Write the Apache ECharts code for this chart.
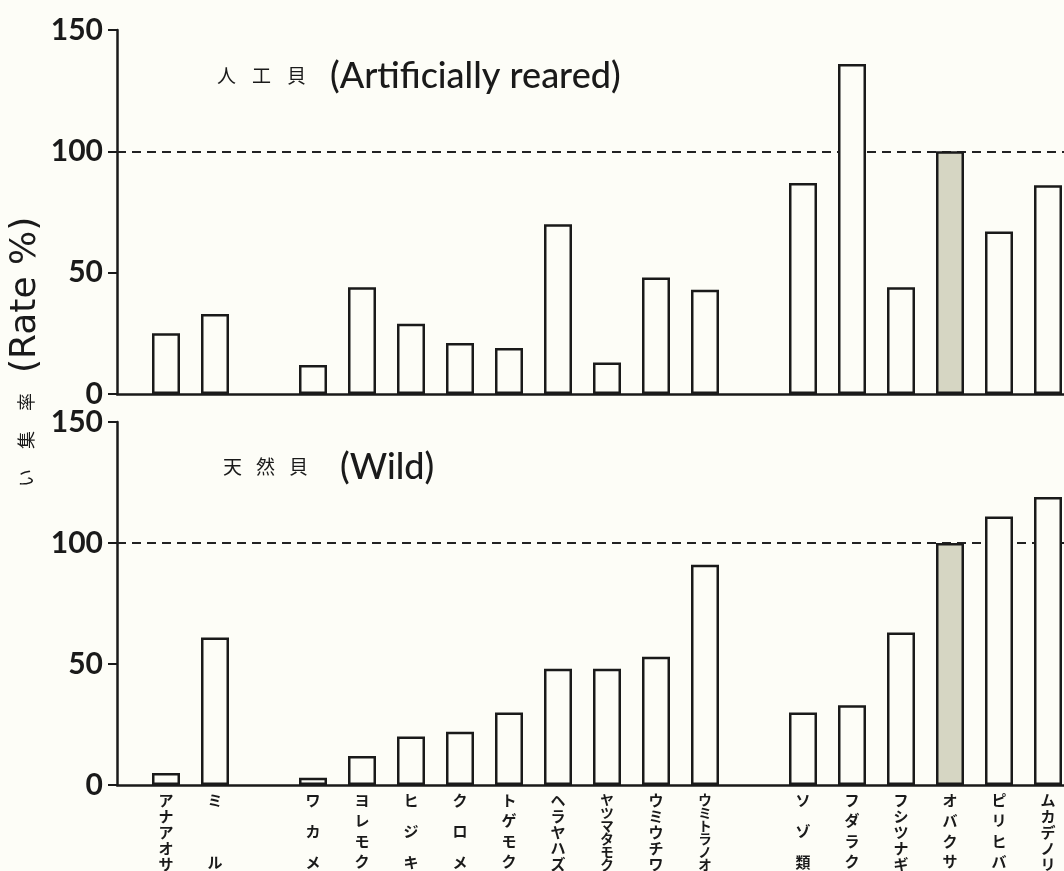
<!DOCTYPE html>
<html>
<head>
<meta charset="utf-8">
<script src="https://cdn.jsdelivr.net/npm/echarts@6/dist/echarts.min.js"></script>
<style>
html,body{margin:0;padding:0;background:#fdfdf7;}
#c{width:1064px;height:871px;}
</style>
</head>
<body>
<div id="c"></div>
<script>
// Category slots ('' = empty gap slot on the axis)
const categories = ['', 'アナアオサ', 'ミル', '', 'ワカメ', 'ヨレモク', 'ヒジキ', 'クロメ', 'トゲモク', 'ヘラヤハズ', 'ヤツマタモク', 'ウミウチワ', 'ウミトラノオ', '', 'ソゾ類', 'フダラク', 'フシツナギ', 'オバクサ', 'ピリヒバ', 'ムカデノリ', ''];
// 人工貝 (Artificially reared) rate %
const rearedValues = [null, 25, 33, null, 12, 44, 29, 21, 19, 70, 13, 48, 43, null, 87, 136, 44, 100, 67, 86, null];
// 天然貝 (Wild) rate %
const wildValues = [null, 5, 61, null, 3, 12, 20, 22, 30, 48, 48, 53, 91, null, 30, 33, 63, 100, 111, 119, null];
const highlighted = 'オバクサ';
const referenceLevel = 100;
const yMin = 0, yMax = 150, yInterval = 50;
const topTitle = ['人', '工', '貝', '(Artificially reared)'];
const bottomTitle = ['天', '然', '貝', '(Wild)'];
const axisName = ['い', '集', '率', '(Rate %)'];

const BG = '#fdfdf7';
const INK = '#1a1a1a';

function barData(vals) {
  return vals.map((v, i) => {
    if (v == null) return '-';
    if (categories[i] === highlighted) return { value: v, itemStyle: { color: '#d6d6c3' } };
    return v;
  });
}

// vertical (stacked) katakana labels, spread to fill the same column height
const spacing = { 1: 14, 2: 62, 3: 31, 4: 20.5, 5: 16, 6: 13 };
const rich = {};
for (let n = 1; n <= 6; n++) {
  const fs = n >= 6 ? 13.5 : 15;
  const base = { fontSize: fs, fontFamily: 'Noto Sans CJK JP', fontWeight: 'bold', color: INK };
  rich['a' + n] = Object.assign({ lineHeight: 14 }, base);
  rich['b' + n] = Object.assign({ lineHeight: Math.max(2 * spacing[n] - 14, 10) }, base);
}
function vert(name) {
  const ch = Array.from(name);
  const n = ch.length;
  if (!n) return '';
  return ch.map((c, i) => '{' + (i % 2 === 0 ? 'a' : 'b') + n + '|' + c + '}').join('\n');
}

function xAxis(gridIndex, showLabel) {
  return {
    type: 'category', gridIndex, data: categories, boundaryGap: false,
    axisLine: { lineStyle: { color: INK, width: 2.5 } },
    axisTick: { show: false },
    axisLabel: showLabel ? { show: true, interval: 0, margin: 8, formatter: vert, rich: rich } : { show: false },
    splitLine: { show: false }
  };
}
function yAxis(gridIndex) {
  return {
    type: 'value', gridIndex, min: yMin, max: yMax, interval: yInterval,
    axisLine: { show: true, lineStyle: { color: INK, width: 2.5 } },
    axisTick: { show: true, length: 9, lineStyle: { color: INK, width: 2 } },
    splitLine: { show: false },
    axisLabel: { fontFamily: 'Lato', fontWeight: 'bold', fontSize: 30, color: INK, margin: 14 }
  };
}
function barSeries(idx, vals) {
  return {
    type: 'bar', xAxisIndex: idx, yAxisIndex: idx, data: barData(vals), barWidth: 28, z: 2,
    itemStyle: { color: BG, borderColor: INK, borderWidth: 2.5 },
    markLine: {
      z: 1, silent: true, symbol: 'none', label: { show: false },
      lineStyle: { color: '#222', type: [9, 6], width: 2 },
      data: [{ yAxis: referenceLevel }]
    }
  };
}
function titleText(parts, x, y, step, lastW) {
  return {
    type: 'text', x: x, y: y, silent: true,
    style: {
      text: '{j|' + parts[0] + '}{j|' + parts[1] + '}{k|' + parts[2] + '}{e|' + parts[3] + '}',
      verticalAlign: 'middle',
      rich: {
        j: { fontSize: 19, fontFamily: 'Noto Sans CJK JP', fill: INK, width: step },
        k: { fontSize: 19, fontFamily: 'Noto Sans CJK JP', fill: INK, width: lastW },
        e: { fontSize: 36, fontFamily: 'Lato', fontWeight: 500, fill: INK }
      }
    }
  };
}

const chart = echarts.init(document.getElementById('c'));
chart.setOption({
  backgroundColor: BG,
  animation: false,
  grid: [
    { left: 117, width: 980, top: 30, height: 364, outerBoundsMode: 'none', containLabel: false },
    { left: 117, width: 980, top: 422, height: 363, outerBoundsMode: 'none', containLabel: false }
  ],
  xAxis: [xAxis(0, false), xAxis(1, true)],
  yAxis: [yAxis(0), yAxis(1)],
  series: [barSeries(0, rearedValues), barSeries(1, wildValues)],
  graphic: [
    titleText(topTitle, 217, 76, 35, 43),
    titleText(bottomTitle, 223, 467, 33, 51),
    {
      type: 'text', x: 26, y: 487, rotation: Math.PI / 2, silent: true,
      style: {
        text: '{j|' + axisName[0] + '}{j|' + axisName[1] + '}{j|' + axisName[2] + '}{e|' + axisName[3] + '}',
        verticalAlign: 'middle',
        rich: {
          j: { fontSize: 18, fontFamily: 'Noto Sans CJK JP', fill: INK, width: 38 },
          e: { fontSize: 36, fontFamily: 'DejaVu Sans', fill: INK }
        }
      }
    }
  ]
});
</script>
</body>
</html>
